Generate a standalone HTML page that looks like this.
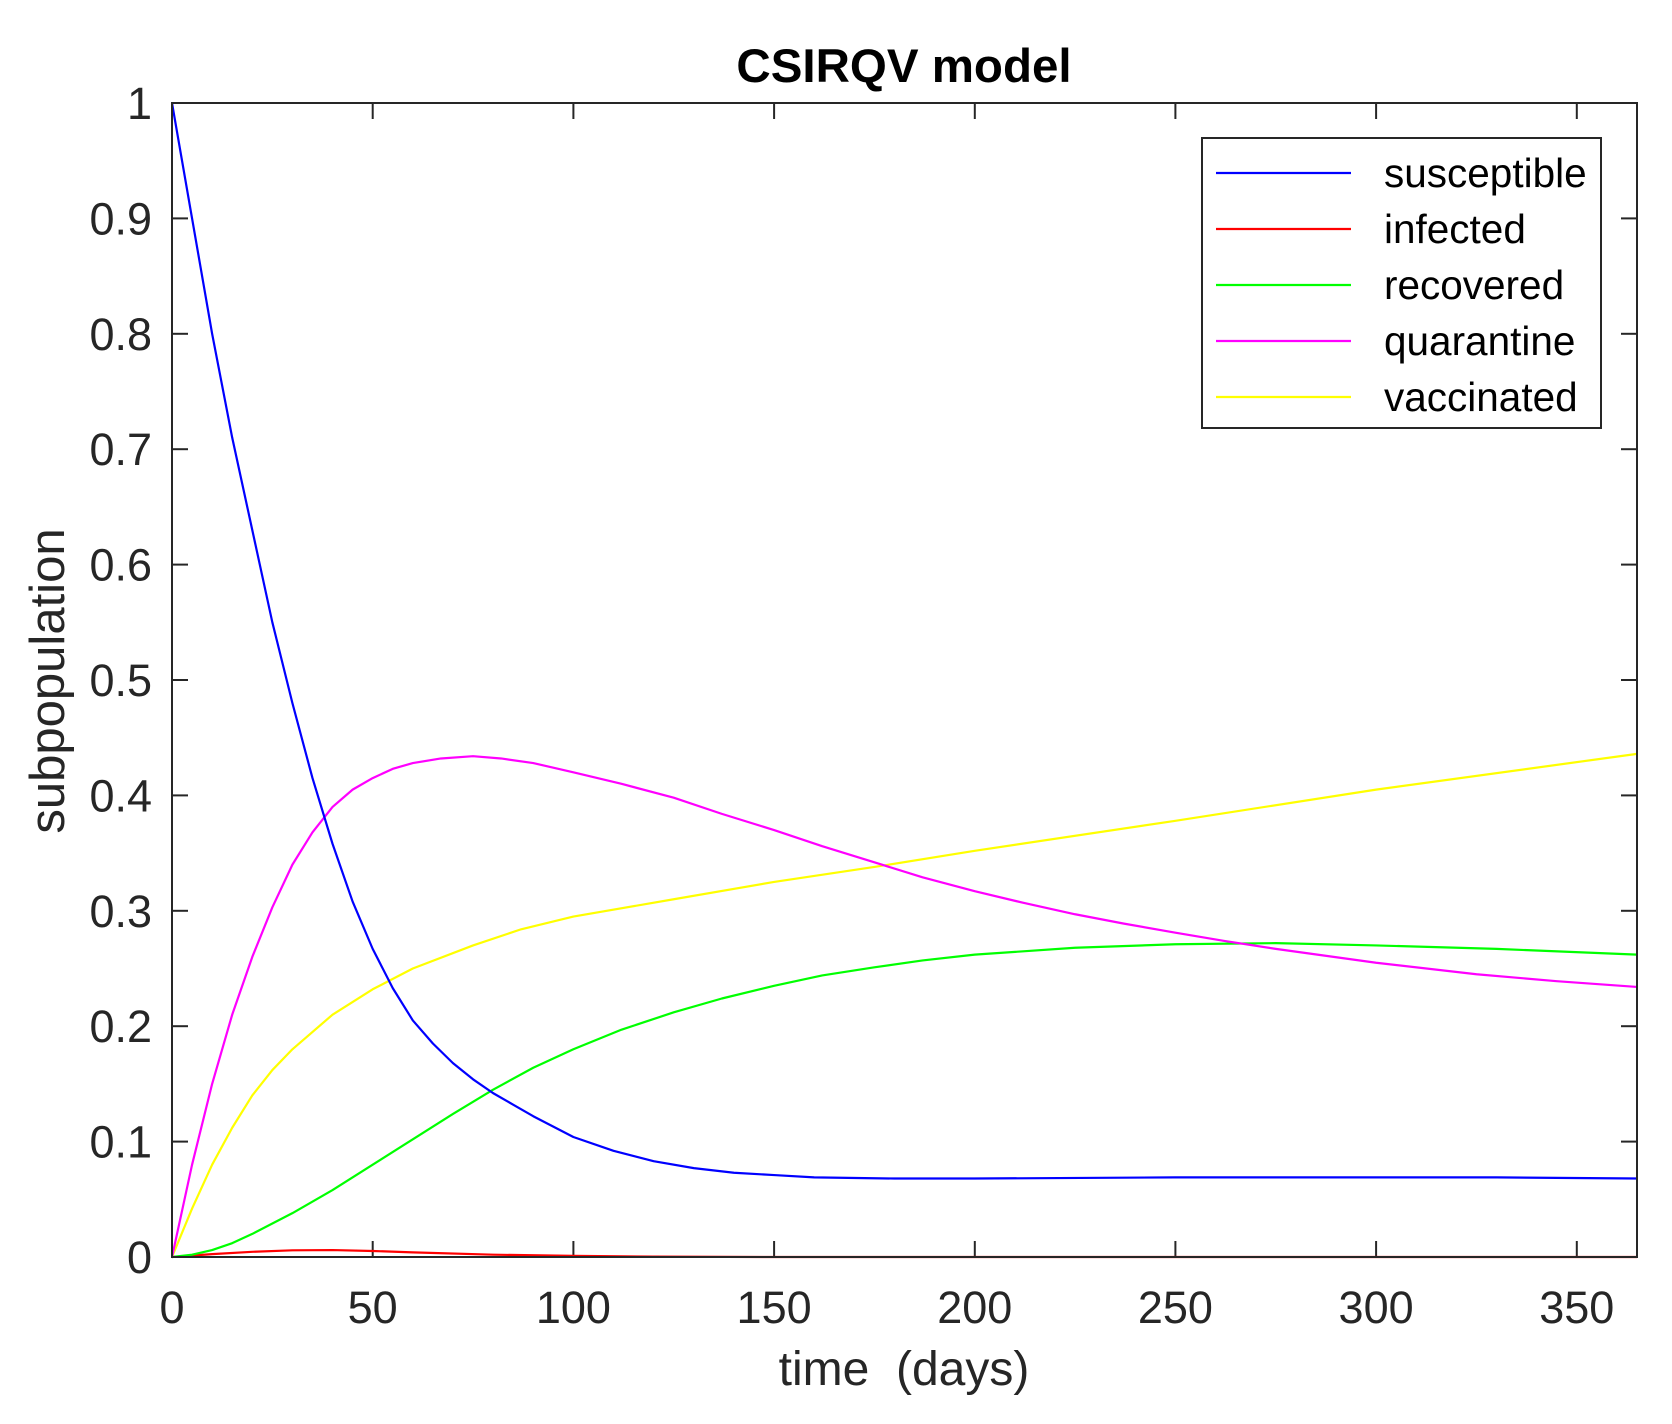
<!DOCTYPE html>
<html><head><meta charset="utf-8"><style>
html,body{margin:0;padding:0;background:#fff}
svg{display:block}
text{font-family:"Liberation Sans",Arial,sans-serif;fill:#262626}
</style></head><body>
<svg width="1672" height="1424" viewBox="0 0 1672 1424" xmlns="http://www.w3.org/2000/svg">
<rect width="1672" height="1424" fill="#fff"/>
<text x="904" y="82" font-size="47.5" font-weight="bold" text-anchor="middle" style="fill:#000">CSIRQV model</text>
<g stroke="#262626" stroke-width="2">
<line x1="172" y1="1141.6" x2="188" y2="1141.6"/><line x1="1637" y1="1141.6" x2="1621" y2="1141.6"/>
<line x1="172" y1="1026.2" x2="188" y2="1026.2"/><line x1="1637" y1="1026.2" x2="1621" y2="1026.2"/>
<line x1="172" y1="910.8" x2="188" y2="910.8"/><line x1="1637" y1="910.8" x2="1621" y2="910.8"/>
<line x1="172" y1="795.4" x2="188" y2="795.4"/><line x1="1637" y1="795.4" x2="1621" y2="795.4"/>
<line x1="172" y1="680" x2="188" y2="680"/><line x1="1637" y1="680" x2="1621" y2="680"/>
<line x1="172" y1="564.6" x2="188" y2="564.6"/><line x1="1637" y1="564.6" x2="1621" y2="564.6"/>
<line x1="172" y1="449.2" x2="188" y2="449.2"/><line x1="1637" y1="449.2" x2="1621" y2="449.2"/>
<line x1="172" y1="333.8" x2="188" y2="333.8"/><line x1="1637" y1="333.8" x2="1621" y2="333.8"/>
<line x1="172" y1="218.4" x2="188" y2="218.4"/><line x1="1637" y1="218.4" x2="1621" y2="218.4"/>
<line x1="372.7" y1="1257" x2="372.7" y2="1241"/><line x1="372.7" y1="103" x2="372.7" y2="119"/>
<line x1="573.4" y1="1257" x2="573.4" y2="1241"/><line x1="573.4" y1="103" x2="573.4" y2="119"/>
<line x1="774.1" y1="1257" x2="774.1" y2="1241"/><line x1="774.1" y1="103" x2="774.1" y2="119"/>
<line x1="974.8" y1="1257" x2="974.8" y2="1241"/><line x1="974.8" y1="103" x2="974.8" y2="119"/>
<line x1="1175.4" y1="1257" x2="1175.4" y2="1241"/><line x1="1175.4" y1="103" x2="1175.4" y2="119"/>
<line x1="1376.1" y1="1257" x2="1376.1" y2="1241"/><line x1="1376.1" y1="103" x2="1376.1" y2="119"/>
<line x1="1576.8" y1="1257" x2="1576.8" y2="1241"/><line x1="1576.8" y1="103" x2="1576.8" y2="119"/>
</g>
<g font-size="45" text-anchor="end">
<text x="152" y="1273">0</text><text x="152" y="1157.6">0.1</text><text x="152" y="1042.2">0.2</text>
<text x="152" y="926.8">0.3</text><text x="152" y="811.4">0.4</text><text x="152" y="696">0.5</text>
<text x="152" y="580.6">0.6</text><text x="152" y="465.2">0.7</text><text x="152" y="349.8">0.8</text>
<text x="152" y="234.4">0.9</text><text x="152" y="119">1</text>
</g>
<g font-size="45" text-anchor="middle">
<text x="172" y="1323">0</text><text x="372.7" y="1323">50</text><text x="573.4" y="1323">100</text>
<text x="774.1" y="1323">150</text><text x="974.8" y="1323">200</text><text x="1175.4" y="1323">250</text>
<text x="1376.1" y="1323">300</text><text x="1576.8" y="1323">350</text>
</g>
<text x="904" y="1385" font-size="48" text-anchor="middle">time&#160;&#160;(days)</text>
<text transform="translate(64,681) rotate(-90)" font-size="49" text-anchor="middle">subpopulation</text>
<g transform="translate(172,1257) scale(4.0137,-1154)" fill="none" stroke-width="2.2" stroke-linejoin="round">
<polyline vector-effect="non-scaling-stroke" stroke="#ff0000" points="0,0 10,0.0025 20,0.0045 30,0.0058 40,0.006 50,0.0052 60,0.004 80,0.002 100,0.001 120,0.0003 150,0 365,0"/>
<polyline vector-effect="non-scaling-stroke" stroke="#00ff00" points="0,0 5,0.002 10,0.006 15,0.012 20,0.02 30,0.038 40,0.058 50,0.08 60,0.102 70,0.124 80,0.145 90,0.164 100,0.18 112,0.197 125,0.212 137,0.224 150,0.235 162,0.244 175,0.251 187,0.257 200,0.262 225,0.268 250,0.271 275,0.272 300,0.27 330,0.267 365,0.262"/>
<polyline vector-effect="non-scaling-stroke" stroke="#ffff00" points="0,0 5,0.042 10,0.08 15,0.112 20,0.14 25,0.162 30,0.18 40,0.21 50,0.232 60,0.25 75,0.27 87,0.284 100,0.295 125,0.31 150,0.325 175,0.338 200,0.352 250,0.378 300,0.405 365,0.436"/>
<polyline vector-effect="non-scaling-stroke" stroke="#ff00ff" points="0,0 5,0.08 10,0.15 15,0.21 20,0.26 25,0.303 30,0.34 35,0.368 40,0.39 45,0.405 50,0.415 55,0.423 60,0.428 67,0.432 75,0.434 82,0.432 90,0.428 100,0.42 112,0.41 125,0.398 137,0.384 150,0.37 162,0.356 175,0.342 187,0.329 200,0.317 212,0.307 225,0.297 237,0.289 250,0.281 262,0.274 275,0.267 300,0.255 325,0.245 345,0.239 365,0.234"/>
<polyline vector-effect="non-scaling-stroke" stroke="#0000ff" points="0,1 5,0.9 10,0.8 15,0.71 20,0.63 25,0.55 30,0.48 35,0.415 40,0.358 45,0.308 50,0.267 55,0.233 60,0.205 65,0.185 70,0.168 75,0.154 80,0.142 85,0.132 90,0.122 100,0.104 110,0.092 120,0.083 130,0.077 140,0.073 150,0.071 160,0.069 180,0.068 200,0.068 250,0.069 300,0.069 330,0.069 365,0.068"/>
</g>
<rect x="172" y="103" width="1465" height="1154" fill="none" stroke="#262626" stroke-width="2"/>
<rect x="1202" y="138" width="399" height="290" fill="#fff" stroke="#262626" stroke-width="2"/>
<g stroke-width="2.2">
<line x1="1216" y1="173" x2="1351" y2="173" stroke="#0000ff"/>
<line x1="1216" y1="229" x2="1351" y2="229" stroke="#ff0000"/>
<line x1="1216" y1="285" x2="1351" y2="285" stroke="#00ff00"/>
<line x1="1216" y1="341" x2="1351" y2="341" stroke="#ff00ff"/>
<line x1="1216" y1="397" x2="1351" y2="397" stroke="#ffff00"/>
</g>
<g font-size="40.5">
<text x="1384" y="187" style="fill:#000">susceptible</text>
<text x="1384" y="243" style="fill:#000">infected</text>
<text x="1384" y="299" style="fill:#000">recovered</text>
<text x="1384" y="355" style="fill:#000">quarantine</text>
<text x="1384" y="411" style="fill:#000">vaccinated</text>
</g>
</svg>
</body></html>
